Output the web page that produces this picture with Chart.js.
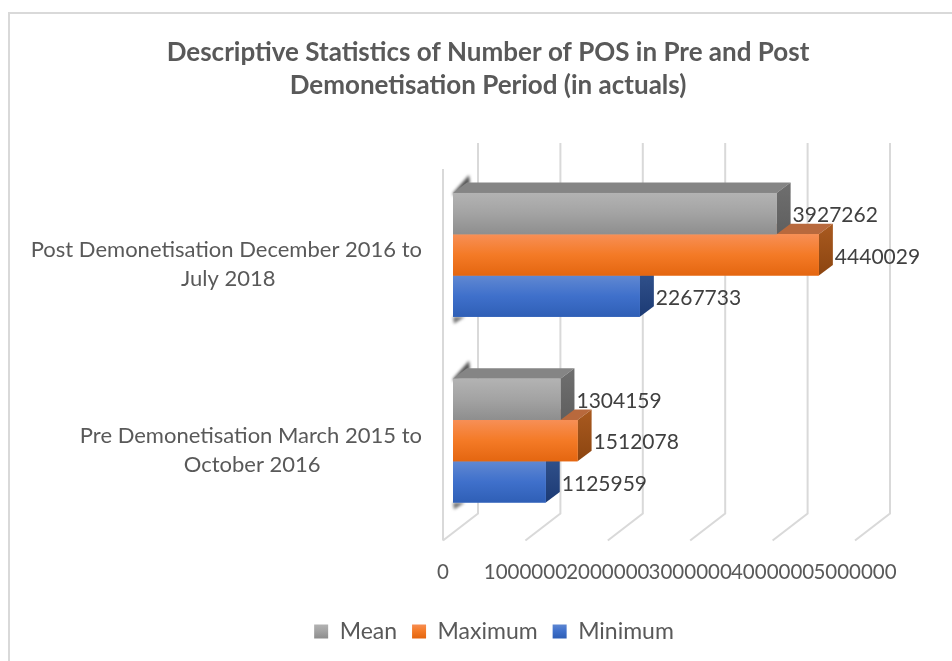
<!DOCTYPE html>
<html>
<head>
<meta charset="utf-8">
<style>html,body{margin:0;padding:0;background:#fff}#wrap{width:952px;height:661px}</style>
<script src="https://cdn.jsdelivr.net/npm/chart.js@4"></script>
</head>
<body>
<div id="wrap"><canvas id="c" width="952" height="661"></canvas></div>
<script>
const categories = [
  ['Post Demonetisation December 2016 to', 'July 2018'],
  ['Pre Demonetisation March 2015 to', 'October 2016']
];
const meanValues = [3927262, 1304159];
const maximumValues = [4440029, 1512078];
const minimumValues = [2267733, 1125959];
const xTickLabels = ['0', '1000000', '2000000', '3000000', '4000000', '5000000'];
const titleLines = ['Descriptive Statistics of Number of POS in Pre and Post', 'Demonetisation Period (in actuals)'];
const seriesNames = ['Mean', 'Maximum', 'Minimum'];

const FONT = 'Lato';
const TICK = 20.5, CAT = 22, LEG = 23, VAL = 21;
const BAR_DX = 14, BAR_DY = 10.5;      // bar depth
const WALL_DX = 35, WALL_DY = 27;      // chart floor depth
const FRONT_SHIFT = 10;                // distance from bar base back to front floor edge

const skins = [
  {grad: ['#b3b3b3', '#a3a3a3', '#8e8e8e'], top: '#858585', side: ['#6f6f6f', '#5f5f5f']},
  {grad: ['#f78f56', '#f47a26', '#e46610'], top: '#b8693d', side: ['#a95a20', '#8c4510']},
  {grad: ['#6088d2', '#3f70cb', '#2f5fb6'], top: '#2f4f86', side: ['#34558f', '#1c3a74']}
];

function vGrad(ctx, y0, y1, stops) {
  const g = ctx.createLinearGradient(0, y0, 0, y1);
  stops.forEach((c, i) => g.addColorStop(i / (stops.length - 1), c));
  return g;
}
function poly(ctx, pts, fill) {
  ctx.beginPath();
  pts.forEach((p, i) => i ? ctx.lineTo(p[0], p[1]) : ctx.moveTo(p[0], p[1]));
  ctx.closePath();
  ctx.fillStyle = fill;
  ctx.fill();
}

const frame3d = {
  id: 'frame3d',
  afterLayout(chart) {
    chart.titleBlock.left += 45.5;
    chart.titleBlock.right += 45.5;
    chart.legend.left += 51.5;
    chart.legend.right += 51.5;
  },
  beforeDraw(chart) {
    const c = chart.ctx;
    c.save();
    c.fillStyle = '#fff';
    c.fillRect(0, 0, chart.width, chart.height);
    c.strokeStyle = '#d9d9d9';
    c.lineWidth = 2;
    c.beginPath();
    c.moveTo(9, chart.height);
    c.lineTo(9, 13);
    c.lineTo(chart.width, 13);
    c.stroke();
    c.restore();
  },
  beforeDatasetsDraw(chart) {
    const c = chart.ctx, x = chart.scales.x, a = chart.chartArea;
    c.save();
    c.strokeStyle = '#d9d9d9';
    c.lineWidth = 2;
    const floorFront = a.bottom + 7, floorBack = floorFront - WALL_DY;
    const wallTop = a.top - 19;
    xTickLabels.forEach((_, i) => {
      const px = x.getPixelForTick(i) - FRONT_SHIFT;
      c.beginPath();
      c.moveTo(px, floorFront);
      c.lineTo(px + WALL_DX, floorBack);
      c.lineTo(px + WALL_DX, wallTop);
      c.stroke();
    });
    const px0 = x.getPixelForTick(0) - FRONT_SHIFT;
    c.beginPath();
    c.moveTo(px0, floorFront);
    c.lineTo(px0, wallTop + WALL_DY - 1);
    c.stroke();
    // soft shadow of the bar ends on the side wall
    const topMeta = chart.getDatasetMeta(0), botMeta = chart.getDatasetMeta(2);
    c.filter = 'blur(1.5px)';
    topMeta.data.forEach((el, i) => {
      const top = el.y - el.height / 2, b = el.base;
      const bot = botMeta.data[i].y + botMeta.data[i].height / 2;
      poly(c, [[b, top], [b + 16, top - 18], [b + 17, top - 10], [b, top + 3]], '#555');
      poly(c, [[b, bot], [b + 12, bot], [b + 1, bot + 7]], '#777');
    });
    c.restore();
  },
  beforeDatasetDraw(chart, args) {
    const c = chart.ctx, s = skins[args.index];
    c.save();
    args.meta.data.forEach(el => {
      const t = el.y - el.height / 2, b = el.y + el.height / 2, l = el.base, r = el.x;
      poly(c, [[l, t], [r, t], [r + BAR_DX, t - BAR_DY], [l + BAR_DX, t - BAR_DY]], s.top);
      poly(c, [[r, t], [r + BAR_DX, t - BAR_DY], [r + BAR_DX, b - BAR_DY], [r, b]],
        vGrad(c, t - BAR_DY, b, s.side));
    });
    c.restore();
  },
  afterDatasetDraw(chart, args) {
    const c = chart.ctx, s = skins[args.index];
    c.save();
    args.meta.data.forEach(el => {
      const t = el.y - el.height / 2, b = el.y + el.height / 2;
      c.fillStyle = vGrad(c, t, b, s.grad);
      c.fillRect(el.base, t, el.x - el.base, b - t);
    });
    c.restore();
  },
  afterDatasetsDraw(chart) {
    const c = chart.ctx;
    c.save();
    c.font = VAL + 'px ' + FONT;
    c.fillStyle = '#404040';
    c.textAlign = 'left';
    c.textBaseline = 'middle';
    chart.data.datasets.forEach((ds, d) => {
      chart.getDatasetMeta(d).data.forEach((el, i) => {
        c.fillText(String(ds.data[i]), el.x + 16, el.y + 2);
      });
    });
    c.restore();
  }
};

// centre the lines of a right-aligned tick label by padding with no-break spaces
const measure = document.createElement('canvas').getContext('2d');
function centredLines(lines) {
  measure.font = CAT + 'px ' + FONT;
  const w = Math.max(...lines.map(l => measure.measureText(l).width));
  const sp = measure.measureText('\u00A0').width;
  return lines.map(l => l + '\u00A0'.repeat(Math.round((w - measure.measureText(l).width) / 2 / sp)));
}

new Chart(document.getElementById('c'), {
  type: 'bar',
  data: {
    labels: categories,
    datasets: [
      {label: seriesNames[0], data: meanValues, backgroundColor: '#a3a3a3'},
      {label: seriesNames[1], data: maximumValues, backgroundColor: '#f47a26'},
      {label: seriesNames[2], data: minimumValues, backgroundColor: '#3f70cb'}
    ]
  },
  options: {
    indexAxis: 'y',
    responsive: false,
    animation: false,
    layout: {padding: {left: 20, right: 87, top: 0, bottom: 8}},
    datasets: {bar: {categoryPercentage: 0.667, barPercentage: 1, borderWidth: 0}},
    scales: {
      x: {
        min: 0, max: 5000000,
        grid: {display: false},
        border: {display: false},
        afterFit(s) { s.height = 71.5; },
        ticks: {
          stepSize: 1000000,
          autoSkip: false,
          maxRotation: 0,
          labelOffset: -FRONT_SHIFT,
          padding: 19,
          color: '#595959',
          font: {family: FONT, size: TICK},
          callback: (v, i) => xTickLabels[i]
        }
      },
      y: {
        grid: {display: false, drawTicks: false},
        border: {display: false},
        afterFit(s) { s.width = 433; },
        ticks: {
          padding: 31,
          autoSkip: false,
          labelOffset: 9.5,
          color: '#595959',
          font: {family: FONT, size: CAT, lineHeight: 1.32},
          callback: (v, i) => centredLines(categories[i])
        }
      }
    },
    plugins: {
      tooltip: {enabled: false},
      title: {
        display: true,
        text: titleLines,
        color: '#595959',
        font: {family: FONT, size: 26, weight: 'bold', lineHeight: 1.27},
        padding: {top: 36, bottom: 60}
      },
      legend: {
        position: 'bottom',
        labels: {
          boxWidth: 14, boxHeight: 14, padding: 15,
          color: '#595959',
          font: {family: FONT, size: LEG},
          generateLabels(chart) {
            return seriesNames.map((n, i) => ({
              text: n,
              fillStyle: vGrad(chart.ctx, 624, 638, skins[i].grad),
              lineWidth: 0,
              strokeStyle: 'transparent',
              fontColor: '#595959',
              datasetIndex: i
            }));
          }
        }
      }
    }
  },
  plugins: [frame3d]
});
</script>
</body>
</html>
